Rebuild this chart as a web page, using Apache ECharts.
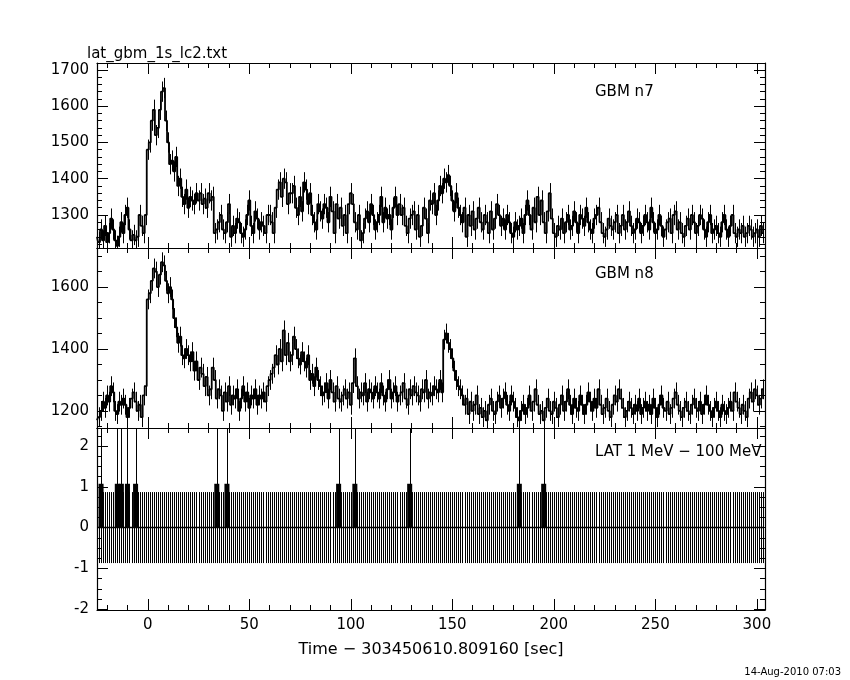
<!DOCTYPE html>
<html><head><meta charset="utf-8">
<script src="https://cdn.jsdelivr.net/npm/echarts@6/dist/echarts.min.js"></script>
<style>html,body{margin:0;padding:0;background:#fff}#c{width:850px;height:680px}</style>
</head><body><div id="c"></div>
<script>
const T0 = -25;
const n7 = [
1240,1225,1260,1230,1270,1225,1250,1290,1260,1230,
1215,1240,1280,1250,1300,1320,1260,1230,1245,1230,
1240,1300,1270,1250,1300,1480,1500,1560,1590,1520,
1540,1590,1640,1650,1560,1500,1440,1450,1420,1460,
1380,1400,1350,1330,1370,1320,1350,1340,1330,1360,
1340,1360,1330,1345,1320,1360,1340,1350,1250,1260,
1280,1300,1260,1250,1280,1330,1240,1270,1250,1290,
1280,1250,1240,1260,1300,1340,1270,1250,1310,1290,
1260,1280,1270,1250,1300,1300,1280,1250,1320,1370,
1390,1350,1400,1390,1330,1360,1360,1380,1320,1300,
1350,1310,1390,1370,1330,1360,1300,1280,1260,1330,
1310,1290,1330,1320,1280,1350,1310,1250,1330,1290,
1320,1270,1300,1250,1330,1360,1330,1280,1260,1300,
1230,1250,1290,1310,1280,1330,1300,1260,1280,1300,
1350,1280,1320,1290,1300,1260,1320,1350,1300,1330,
1300,1320,1270,1250,1290,1300,1310,1260,1300,1240,
1270,1320,1290,1250,1340,1330,1360,1300,1340,1380,
1360,1400,1390,1410,1380,1340,1310,1360,1320,1300,
1280,1320,1240,1300,1270,1310,1260,1290,1320,1280,
1260,1300,1280,1250,1310,1260,1290,1330,1300,1270,
1290,1260,1300,1280,1250,1240,1280,1260,1270,1290,
1250,1300,1340,1300,1260,1320,1280,1350,1300,1340,
1280,1250,1310,1360,1290,1250,1240,1270,1260,1290,
1250,1280,1300,1260,1270,1310,1280,1250,1300,1290,
1270,1320,1280,1260,1250,1290,1300,1320,1280,1250,
1240,1260,1290,1270,1260,1280,1300,1250,1270,1300,
1260,1280,1310,1270,1250,1260,1290,1280,1250,1270,
1300,1280,1260,1320,1280,1250,1260,1300,1270,1240,
1260,1280,1290,1250,1300,1310,1260,1280,1250,1240,
1270,1290,1260,1300,1280,1250,1270,1300,1290,1260,
1240,1280,1300,1250,1260,1270,1250,1240,1280,1300,
1260,1240,1270,1300,1250,1240,1260,1250,1270,1240,
1250,1270,1260,1240,1250,1260,1240,1270,1250];
const n8 = [
1170,1180,1200,1230,1210,1250,1230,1280,1260,1200,
1190,1230,1220,1240,1220,1180,1210,1240,1260,1230,
1200,1220,1180,1250,1280,1560,1580,1620,1660,1650,
1600,1640,1680,1670,1620,1580,1600,1560,1500,1470,
1420,1440,1380,1370,1400,1380,1360,1390,1330,1360,
1300,1340,1320,1280,1310,1250,1270,1340,1300,1240,
1270,1250,1200,1260,1230,1280,1220,1250,1240,1270,
1200,1240,1280,1230,1260,1210,1250,1240,1270,1220,
1250,1240,1260,1230,1280,1300,1320,1340,1380,1350,
1400,1360,1460,1380,1420,1360,1380,1440,1400,1370,
1350,1390,1360,1340,1380,1300,1320,1280,1340,1300,
1280,1250,1260,1290,1240,1300,1260,1230,1280,1240,
1230,1250,1270,1240,1260,1220,1290,1370,1280,1240,
1260,1250,1290,1230,1270,1260,1240,1280,1260,1240,
1290,1250,1230,1270,1300,1240,1260,1280,1230,1250,
1260,1290,1240,1220,1270,1250,1280,1260,1250,1230,
1270,1260,1300,1240,1260,1250,1280,1270,1260,1300,
1260,1430,1450,1420,1400,1370,1330,1300,1280,1270,
1250,1220,1240,1190,1230,1200,1220,1250,1190,1210,
1180,1200,1170,1220,1240,1200,1190,1230,1250,1210,
1240,1260,1220,1200,1250,1230,1210,1180,1170,1200,
1220,1190,1210,1250,1200,1230,1270,1220,1190,1200,
1170,1210,1240,1200,1190,1230,1210,1180,1220,1250,
1200,1230,1270,1220,1190,1240,1210,1200,1250,1220,
1190,1220,1260,1230,1200,1240,1210,1270,1220,1190,
1210,1240,1200,1180,1220,1250,1230,1270,1240,1210,
1180,1200,1230,1210,1190,1220,1200,1240,1190,1210,
1230,1200,1220,1190,1240,1210,1180,1220,1250,1210,
1200,1230,1190,1210,1240,1260,1220,1200,1180,1210,
1230,1200,1190,1220,1240,1210,1200,1230,1190,1220,
1250,1220,1200,1180,1210,1230,1200,1180,1220,1200,
1190,1210,1230,1200,1260,1230,1210,1190,1220,1200,
1180,1240,1260,1230,1270,1250,1220,1240,1270];
const latEvents = [-23,-15,-13,-10,-6,34,39,94,102,129,183,195];
const n7Err = 28, n8Err = 32;
const latErr0 = 0.87, latTop = 2.6;

const times = n7.map((_, i) => T0 + i);
const latCounts = times.map(t => latEvents.includes(t) ? 1 : 0);

const font = 'DejaVu Sans';
const grids = [
  {left:97, right:85, top:63, height:185},
  {left:97, right:85, top:248, height:180},
  {left:97, right:85, top:428, height:182}
];
const xMin = -25, xMax = 304;
function xAx(gi, pos, labels) {
  return {type:'value', gridIndex:gi, min:xMin, max:xMax, splitNumber:6, position:pos,
    axisLine:{show:true, onZero:false, lineStyle:{color:'#000', width:1.2}},
    axisTick:{show:true, inside:true, length:11, lineStyle:{color:'#000'}},
    minorTick:{show:true, splitNumber:5, length:5, lineStyle:{color:'#000'}},
    splitLine:{show:false},
    axisLabel:{show:labels, color:'#000', fontFamily:font, fontSize:15, showMinLabel:false, showMaxLabel:false, margin:8, formatter:v=>String(v)},
    name: labels ? 'Time − 303450610.809160 [sec]' : '', nameLocation:'middle', nameGap:32,
    nameTextStyle:{color:'#000', fontFamily:font, fontSize:16}};
}
function yAx(gi, pos, mn, mx, sn, minorN, labels) {
  return {type:'value', gridIndex:gi, min:mn, max:mx, splitNumber:sn, position:pos,
    axisLine:{show:true, onZero:false, lineStyle:{color:'#000', width:1.2}},
    axisTick:{show:true, inside:true, length:11, lineStyle:{color:'#000'}},
    minorTick:{show:true, splitNumber:minorN, length:5, lineStyle:{color:'#000'}},
    splitLine:{show:false},
    axisLabel:{show:labels, color:'#000', fontFamily:font, fontSize:15, showMinLabel:false, showMaxLabel:false, margin:8, formatter:v=>String(v)}};
}
const xAxis = [xAx(0,'bottom',false), xAx(0,'top',false), xAx(1,'bottom',false), xAx(1,'top',false), xAx(2,'bottom',true), xAx(2,'top',false)];
const yAxis = [
  yAx(0,'left',1209,1719,5,5,true), yAx(0,'right',1209,1719,5,5,false),
  yAx(1,'left',1145,1726,3,4,true), yAx(1,'right',1145,1726,3,4,false),
  yAx(2,'left',-2.02,2.44,4,4,true), yAx(2,'right',-2.02,2.44,4,4,false)
];

function errSeries(vals, err, xi, yi) {
  return {type:'custom', xAxisIndex:xi, yAxisIndex:yi, clip:true, silent:true,
    data: vals.map((v,i)=>[times[i], v]),
    renderItem:(params, api) => {
      const t = api.value(0), v = api.value(1);
      const a = api.coord([t, v - err]), b = api.coord([t, v + err]);
      const x = Math.round(a[0]) + 0.5;
      return {type:'line', shape:{x1:x, y1:a[1], x2:x, y2:b[1]}, style:{stroke:'#000', lineWidth:1}};
    }};
}
function stepSeries(vals, xi, yi) {
  return {type:'line', xAxisIndex:xi, yAxisIndex:yi, step:'middle', symbol:'none', silent:true,
    data: vals.map((v,i)=>[times[i], v]), lineStyle:{color:'#000', width:1.8}};
}
const latSeries = {type:'custom', xAxisIndex:4, yAxisIndex:4, clip:true, silent:true,
  data: latCounts.map((c,i)=>[times[i], c]),
  renderItem:(params, api) => {
    const t = api.value(0), c = api.value(1);
    const kids = [];
    const lo = api.coord([t, -latErr0]), hi = api.coord([t, latErr0]);
    const x = Math.round(lo[0]) + 0.5;
    kids.push({type:'line', shape:{x1:x, y1:lo[1], x2:x, y2:hi[1]}, style:{stroke:'#000', lineWidth:1}});
    if (c > 0) {
      const z = api.coord([t, 0]), top = api.coord([t, latTop]);
      kids.push({type:'line', shape:{x1:x, y1:z[1], x2:x, y2:top[1]}, style:{stroke:'#000', lineWidth:1}});
      const p1 = api.coord([t-0.5, c]), p2 = api.coord([t+0.5, c]);
      kids.push({type:'rect', shape:{x:p1[0]-1.5, y:p1[1]-3, width:p2[0]-p1[0]+3, height:z[1]-p1[1]+3}, style:{fill:'#000'}});
    }
    return {type:'group', children:kids};
  }};
const zeroLine = {type:'line', xAxisIndex:4, yAxisIndex:4, symbol:'none', silent:true,
  data: times.map(t=>[t,0]), lineStyle:{color:'#000', width:1.5}};

const chart = echarts.init(document.getElementById('c'));
chart.setOption({
  animation:false, backgroundColor:'#fff',
  grid: grids, xAxis, yAxis,
  title:[
    {text:'lat_gbm_1s_lc2.txt', left:82, top:42, textStyle:{fontFamily:font, fontSize:15, fontWeight:'normal', color:'#000'}},
    {text:'GBM n7', left:590, top:80, textStyle:{fontFamily:font, fontSize:15, fontWeight:'normal', color:'#000'}},
    {text:'GBM n8', left:590, top:262, textStyle:{fontFamily:font, fontSize:15, fontWeight:'normal', color:'#000'}},
    {text:'LAT 1 MeV − 100 MeV', left:590, top:440, textStyle:{fontFamily:font, fontSize:15, fontWeight:'normal', color:'#000'}},
    {text:'14-Aug-2010 07:03', right:4, top:662, textStyle:{fontFamily:font, fontSize:10, fontWeight:'normal', color:'#000'}}
  ],
  series:[
    errSeries(n7, n7Err, 0, 0), stepSeries(n7, 0, 0),
    errSeries(n8, n8Err, 2, 2), stepSeries(n8, 2, 2),
    latSeries, zeroLine
  ]
});
</script></body></html>
